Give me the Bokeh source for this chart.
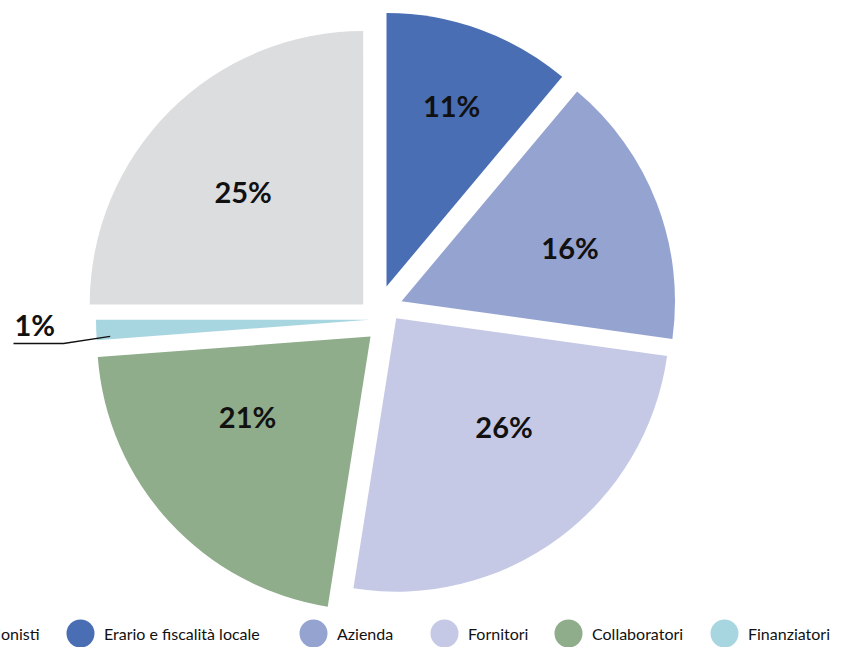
import math
from bokeh.plotting import figure
from bokeh.models import Range1d, ColumnDataSource
from bokeh.embed import file_html
from bokeh.resources import INLINE
from bokeh.core.properties import value

# ---- data (legend / series order) ----
categories = ["Azionisti", "Erario e fiscalità locale", "Azienda", "Fornitori",
              "Collaboratori", "Finanziatori"]
shares = [25.0, 11.1, 16.1, 25.3, 21.3, 1.2]
share_labels = ["25%", "11%", "16%", "26%", "21%", "1%"]

# ---- style ----
colors = ["#DCDDDF", "#4A6EB3", "#95A3D0", "#C5C9E6", "#8FAC8B", "#A8D6E0"]
FONT = "Lato"
W, H = 834, 647
TOP = 663                    # data y of the canvas top edge (screen y = TOP - data y)
FIRST_ANGLE = 270.0          # degrees clockwise from 12 o'clock
R = 273.5                    # pie radius, px
CENTER = (378.0, 312.0)      # screen px (y down)
# explode vectors per slice (px, screen: dx right, dy down)
EXPLODE = [(-15.3, -8.0), (8.0, -26.0), (23.0, -11.3), (17.7, 5.7), (-8.0, 24.0), (-9.0, 7.2)]
# label placement from each slice tip: (distance px, angle clockwise from 12 o'clock)
LABEL_POLAR = [(165, 313.3), (192.4, 19.8), (177, 72.2), (152.8, 135.1), (146.6, 237.0), None]
LEGEND_X = [-45, 80, 313, 444, 568, 724]   # marker centres, screen px
LEGEND_Y = 633.0

p = figure(width=W, height=H, output_backend="svg", toolbar_location=None,
           x_range=Range1d(0, W), y_range=Range1d(TOP - H, TOP),
           min_border=0, outline_line_color=None, x_axis_type=None, y_axis_type=None,
           background_fill_color="white", border_fill_color="white")
p.grid.visible = False

total = sum(shares)
xs, ys, sa, ea = [], [], [], []
cum = 0.0
tips = []
for i, s in enumerate(shares):
    start_cw = FIRST_ANGLE + cum / total * 360.0
    end_cw = start_cw + s / total * 360.0
    cum += s
    dx, dy = EXPLODE[i]
    tx, ty = CENTER[0] + dx, CENTER[1] + dy
    tips.append((tx, ty, start_cw, end_cw))
    xs.append(tx)
    ys.append(TOP - ty)
    sa.append(math.radians(90.0 - start_cw))
    ea.append(math.radians(90.0 - end_cw))

src = ColumnDataSource(dict(x=xs, y=ys, sa=sa, ea=ea, color=colors, cat=categories))
p.wedge(x="x", y="y", radius=R, start_angle="sa", end_angle="ea", direction="clock",
        fill_color="color", line_color=None, source=src)

# in-slice percentage labels
lx, ly, lt = [], [], []
for i, pol in enumerate(LABEL_POLAR):
    if pol is None:
        continue
    d, ang = pol
    tx, ty, _, _ = tips[i]
    cx = tx + d * math.sin(math.radians(ang))
    cy = ty - d * math.cos(math.radians(ang))
    lx.append(cx)
    ly.append(TOP - cy)
    lt.append(share_labels[i])
p.text(x=lx, y=ly, text=lt, text_align="center", text_baseline="middle",
       text_font=value(FONT), text_font_style="bold", text_font_size="29px",
       text_color="#111111")

# outside label for the small slice with leader line
i_small = 5
tx, ty, s_cw, e_cw = tips[i_small]
end_ang = s_cw + 0.15 * (e_cw - s_cw)
ex = tx + 0.95 * R * math.sin(math.radians(end_ang))
ey = ty - 0.95 * R * math.cos(math.radians(end_ang))
leader_x = [13, 63, ex]
leader_y = [TOP - 343, TOP - 343, TOP - ey]
p.line(leader_x, leader_y, line_color="#111111", line_width=1.3)
p.text(x=[14], y=[TOP - 324], text=[share_labels[i_small]], text_align="left",
       text_baseline="middle", text_font=value(FONT), text_font_style="bold",
       text_font_size="29px", text_color="#111111")

# legend (manual, bottom row)
p.scatter(x=LEGEND_X, y=[TOP - LEGEND_Y] * len(LEGEND_X), size=28, marker="circle",
          fill_color=colors, line_color=None)
p.text(x=[v + 23.5 for v in LEGEND_X], y=[TOP - LEGEND_Y] * len(LEGEND_X), text=categories,
       text_align="left", text_baseline="middle", text_font=value(FONT),
       text_font_size="16px", text_color="#111111")

open("out.html", "w").write(file_html(p, INLINE))
